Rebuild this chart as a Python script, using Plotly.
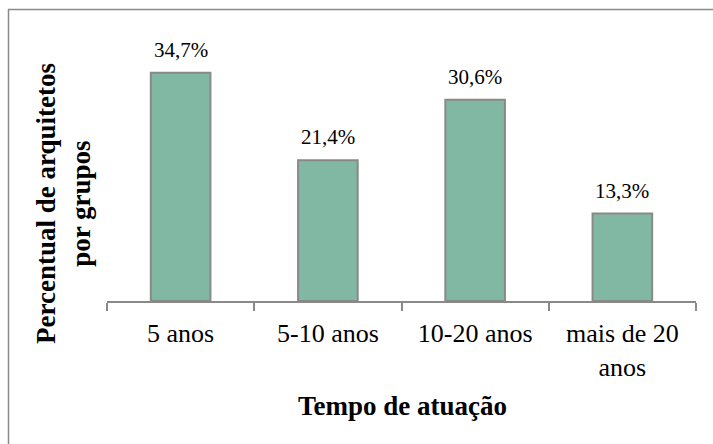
import plotly.graph_objects as go

categories = ["5 anos", "5-10 anos", "10-20 anos", "mais de 20<br>anos"]
values = [34.7, 21.4, 30.6, 13.3]
value_labels = ["34,7%", "21,4%", "30,6%", "13,3%"]

FONT = "Liberation Serif"
GRAY = "#898989"
BAR = "#80B8A3"

W, H = 713, 444
L, R, T, B = 107, 17, 38, 143
pw, ph = W - L - R, H - T - B

def px_x(x):
    return (x - L) / pw

def px_y(y):
    return (H - B - y) / ph

fig = go.Figure()
fig.add_trace(go.Bar(
    x=categories, y=values,
    marker=dict(color=BAR, line=dict(color=GRAY, width=2)),
    width=0.405,
    hoverinfo="skip",
))

annotations = []
for c, v, t in zip(categories, values, value_labels):
    annotations.append(dict(
        x=c, y=v, xref="x", yref="y", text=t, showarrow=False,
        yanchor="bottom", yshift=9,
        font=dict(family=FONT, size=21, color="#000000"),
    ))

annotations.append(dict(
    x=px_x(63), y=px_y(204), xref="paper", yref="paper",
    text="<b>Percentual de arquitetos<br>por grupos</b>", textangle=-90,
    showarrow=False, xanchor="center", yanchor="middle",
    font=dict(family=FONT, size=27, color="#000000"),
))
annotations.append(dict(
    x=px_x(402), y=px_y(406), xref="paper", yref="paper",
    text="<b>Tempo de atuação</b>",
    showarrow=False, xanchor="center", yanchor="middle",
    font=dict(family=FONT, size=27, color="#000000"),
))

fig.update_layout(
    width=W, height=H,
    margin=dict(l=L, r=R, t=T, b=B, pad=0),
    paper_bgcolor="white", plot_bgcolor="white",
    showlegend=False,
    font=dict(family=FONT, color="#000000"),
    annotations=annotations,
    shapes=[dict(
        type="rect", xref="paper", yref="paper",
        x0=px_x(8.5), x1=px_x(760), y0=px_y(500), y1=px_y(9.5),
        line=dict(color=GRAY, width=1.5), fillcolor="rgba(0,0,0,0)",
        layer="below",
    )],
    xaxis=dict(
        type="category",
        showline=True, linecolor=GRAY, linewidth=2,
        ticks="outside", tickson="boundaries", ticklen=8,
        tickcolor=GRAY, tickwidth=2,
        ticklabelstandoff=8,
        tickfont=dict(family=FONT, size=26, color="#000000"),
        showgrid=False, zeroline=False,
    ),
    yaxis=dict(
        range=[0, 40], visible=False, showgrid=False, zeroline=False,
    ),
)

fig.write_html("out.html")
